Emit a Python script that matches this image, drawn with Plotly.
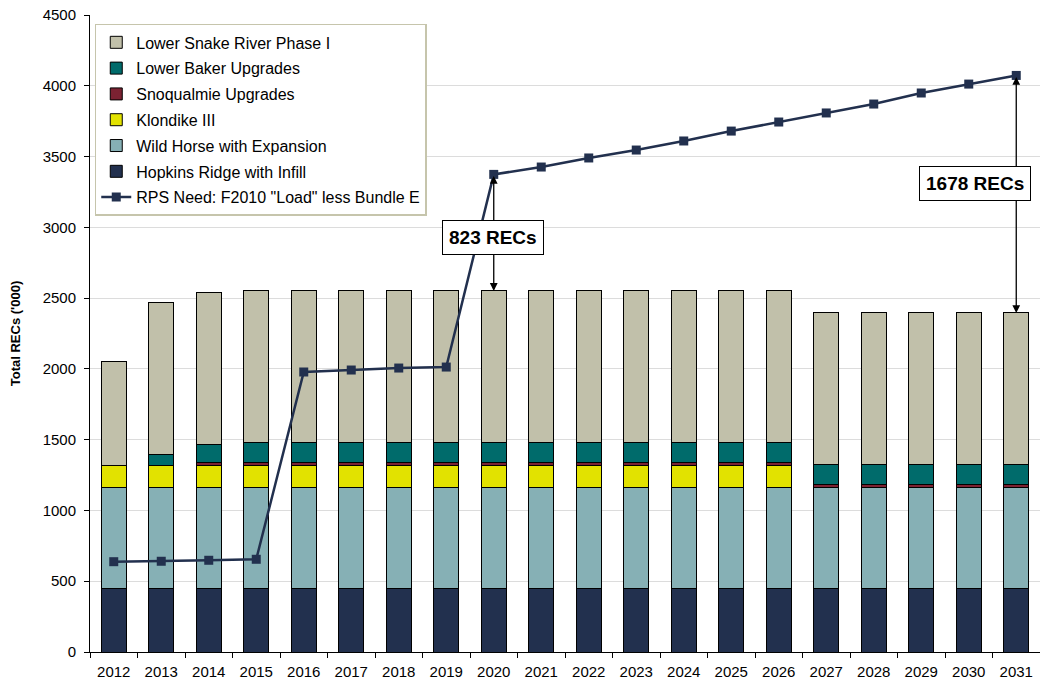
import plotly.graph_objects as go

years = [str(y) for y in range(2012, 2032)]

hopkins = [450] * 20
wild_horse = [713] * 20
klondike = [157] * 15 + [0] * 5
snoqualmie = [0, 0] + [20] * 18
lower_baker = [0, 75, 129] + [139] * 12 + [139] * 5
lower_snake = [729, 1077, 1074] + [1072] * 12 + [1073] * 5
rps_need = [638, 641, 648, 655, 1978, 1992, 2006, 2013, 3374, 3426, 3490, 3546,
            3610, 3680, 3744, 3808, 3871, 3949, 4012, 4073]

series = [
    ("Hopkins Ridge with Infill", hopkins, "#22304e", 6),
    ("Wild Horse with Expansion", wild_horse, "#86b0b5", 5),
    ("Klondike III", klondike, "#e2e200", 4),
    ("Snoqualmie Upgrades", snoqualmie, "#7b2232", 3),
    ("Lower Baker Upgrades", lower_baker, "#006b6b", 2),
    ("Lower Snake River Phase I", lower_snake, "#c1c0aa", 1),
]

fig = go.Figure()
for name, vals, color, rank in series:
    fig.add_trace(go.Bar(
        x=years, y=vals, name=name, marker_color=color,
        marker_line_color="black", marker_line_width=1,
        legendrank=rank, legendgroup=name,
    ))

fig.add_trace(go.Scatter(
    x=years, y=rps_need, name='RPS Need: F2010 "Load" less Bundle E',
    mode="lines+markers", line=dict(color="#22304e", width=2.5),
    marker=dict(symbol="square", size=9, color="#22304e"),
    legendrank=7, legendgroup="rps",
))

totals = [sum(v) for v in zip(hopkins, wild_horse, klondike, snoqualmie, lower_baker, lower_snake)]

def gap_arrow(idx, label, box_dx, box_y):
    fig.add_annotation(
        x=idx, y=totals[idx], ax=idx, ay=rps_need[idx],
        xref="x", yref="y", axref="x", ayref="y", text="",
        showarrow=True, arrowhead=2, arrowsize=1.2, arrowwidth=1.3,
        arrowside="end+start", arrowcolor="black",
    )
    fig.add_annotation(
        x=idx + box_dx, y=box_y, xref="x", yref="y", text="<b>%s</b>" % label,
        showarrow=False, bgcolor="white", bordercolor="black", borderwidth=1,
        borderpad=6, font=dict(family="Arial, Liberation Sans", size=19, color="black"),
    )

i2020 = years.index("2020")
i2031 = years.index("2031")
gap_arrow(i2020, "%d RECs" % (rps_need[i2020] - totals[i2020]), -0.02, 2925)
gap_arrow(i2031, "%d RECs" % (rps_need[i2031] - totals[i2031]), -0.86, 3313)

fig.update_layout(
    barmode="stack", bargap=0.47,
    width=1040, height=683,
    margin=dict(l=90, r=0, t=15, b=31, autoexpand=False),
    plot_bgcolor="white", paper_bgcolor="white",
    font=dict(family="Arial, Liberation Sans", size=15, color="black"),
    showlegend=True,
    legend=dict(
        x=0.005, y=0.986, xanchor="left", yanchor="top",
        bgcolor="white", bordercolor="#c6c5ac", borderwidth=1.5,
        font=dict(size=16), traceorder="grouped", tracegroupgap=2,
    ),
    xaxis=dict(
        type="category", range=[-0.5, 19.5], autorange=False,
        tickson="boundaries", ticks="outside", ticklen=5,
        tickcolor="black", showline=True, linecolor="black", linewidth=1,
        tickfont=dict(size=15), tickangle=0, ticklabelstandoff=6,
        ticklabeloverflow="allow",
    ),
    yaxis=dict(
        range=[0, 4500], dtick=500, ticks="outside", ticklen=5, tickcolor="black",
        showline=True, linecolor="black", linewidth=1, showgrid=True,
        gridcolor="#dcdcdc", gridwidth=1, zeroline=False,
        title=dict(text="<b>Total RECs ('000)</b>", font=dict(size=13), standoff=19),
        tickfont=dict(size=15), ticklabelstandoff=5, ticklabeloverflow="allow",
    ),
)

fig.write_html("out.html", config={"displayModeBar": False},
               post_script="document.body.style.margin='0';")
